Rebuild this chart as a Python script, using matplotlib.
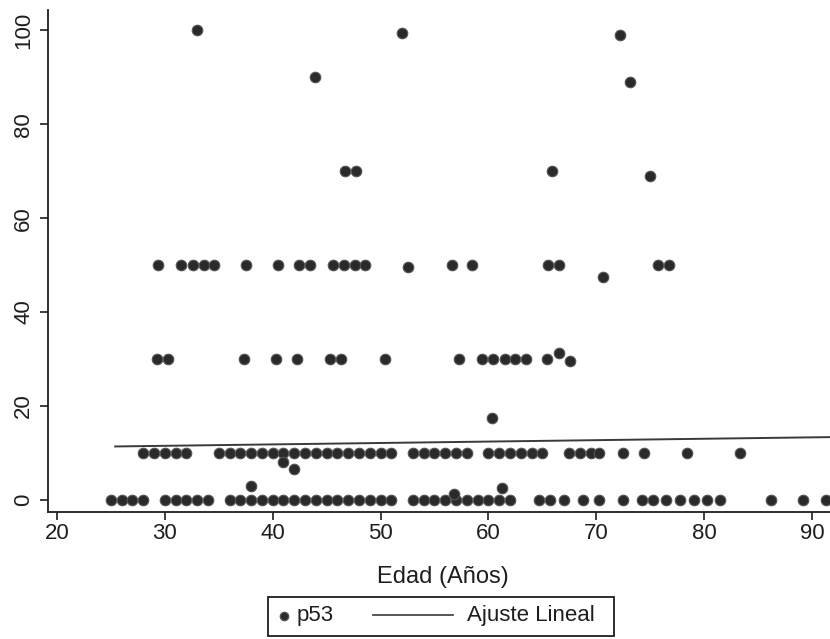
import matplotlib
matplotlib.use("Agg")
import matplotlib.pyplot as plt
import numpy as np
from matplotlib.lines import Line2D
from matplotlib.patches import Rectangle

plt.rcParams['font.family'] = ['Liberation Sans', 'DejaVu Sans']

# --- data ---
edad_0 = [25, 26, 27, 28, 30, 31, 32, 33, 34,
          36, 37, 38, 39, 40, 41, 42, 43, 44, 45, 46, 47, 48, 49, 50, 51,
          53, 54, 55, 56, 57, 58, 59, 60, 61, 62,
          64.7, 65.7, 67, 68.8, 70.3, 72.5, 74.2, 75.3, 76.5, 77.8,
          79.1, 80.3, 81.5, 86.2, 89.2, 91.3]
edad_10 = [28, 29, 30, 31, 32,
           35, 36, 37, 38, 39, 40, 41, 42, 43, 44, 45, 46, 47, 48, 49, 50, 51,
           53, 54, 55, 56, 57, 58,
           60, 61, 62, 63, 64, 65,
           67.5, 68.5, 69.5, 70.3, 72.5, 74.4, 78.4, 83.3]
edad_30 = [29.3, 30.3, 37.3, 40.3, 42.3, 45.3, 46.3, 50.4, 57.3,
           59.4, 60.4, 61.5, 62.5, 63.5, 65.4, 66.5, 67.6]
p53_30 = [30, 30, 30, 30, 30, 30, 30, 30, 30,
          30, 30, 30, 30, 30, 30, 31.2, 29.5]
edad_50 = [29.4, 31.5, 32.6, 33.6, 34.6, 37.5, 40.5, 42.4, 43.5, 45.6,
           46.6, 47.6, 48.6, 52.5, 56.6, 58.5, 65.5, 66.5, 70.6, 75.7, 76.7]
p53_50 = [50, 50, 50, 50, 50, 50, 50, 50, 50, 50,
          50, 50, 50, 49.5, 50, 50, 50, 50, 47.5, 50, 50]
edad_otros = [41, 42, 38, 61.3, 56.8, 60.3, 46.7, 47.7, 65.9, 75.0,
              33.0, 52.0, 72.2, 43.9, 73.1]
p53_otros = [8, 6.5, 3, 2.5, 1.2, 17.5, 70, 70, 70, 69,
             100, 99.5, 99, 90, 89]

edad = np.array(edad_0 + edad_10 + edad_30 + edad_50 + edad_otros, dtype=float)
p53 = np.array([0] * len(edad_0) + [10] * len(edad_10) + p53_30 + p53_50 + p53_otros,
               dtype=float)

ajuste_x = [25.4, 92.0]
ajuste_y = [11.4, 13.4]

x_ticks = [20, 30, 40, 50, 60, 70, 80, 90]
y_ticks = [0, 20, 40, 60, 80, 100]
leyenda = ['p53', 'Ajuste Lineal']

# --- figure ---
W, H = 830, 639
fig = plt.figure(figsize=(W / 100, H / 100), dpi=100)
ax = fig.add_axes([48 / W, 1 - 512 / H, 1 - 48 / W + 0.01, 502 / H])

ink = '#1e1e1e'
mface, medge = '#2a2a2a', '#555555'
ax.plot(edad, p53, linestyle='none', marker='o', markersize=7.6,
        markerfacecolor=mface, markeredgecolor=medge,
        markeredgewidth=0.8, zorder=3)
ax.plot(ajuste_x, ajuste_y, color='#3a3a3a', linewidth=1.4, zorder=2)

ax.set_xlim(19.17, 91.67 + 0.01 * W / 10.786)
ax.set_ylim(-2.55, 104.3)

ax.set_xticks(x_ticks)
ax.set_yticks(y_ticks)
ax.tick_params(axis='both', direction='out', length=6, width=1.2,
               colors=ink, labelsize=16)
ax.tick_params(axis='x', pad=2)
ax.tick_params(axis='y', pad=4)
for lab in ax.get_yticklabels():
    lab.set_rotation(90)
    lab.set_va('center')

for s in ['top', 'right']:
    ax.spines[s].set_visible(False)
for s in ['left', 'bottom']:
    ax.spines[s].set_linewidth(1.3)
    ax.spines[s].set_color(ink)

ax.set_xlabel('Edad (Años)', fontsize=17, color=ink, labelpad=16)

# --- legend box (drawn in figure pixel coordinates) ---
def fx(px):
    return px / W

def fy(py):
    return 1 - py / H

fig.add_artist(Rectangle((fx(268), fy(636)), fx(614) - fx(268), fy(597) - fy(636),
                         transform=fig.transFigure, fill=False,
                         edgecolor=ink, linewidth=1.3))
fig.add_artist(Line2D([fx(284)], [fy(616)], transform=fig.transFigure,
                      linestyle='none', marker='o', markersize=6,
                      markerfacecolor=mface, markeredgecolor=medge))
fig.text(fx(297), fy(616), leyenda[0], fontsize=16, color=ink,
         ha='left', va='center')
fig.add_artist(Line2D([fx(373), fx(453)], [fy(615), fy(615)],
                      transform=fig.transFigure, color='#3a3a3a', linewidth=1.2))
fig.text(fx(467), fy(616), leyenda[1], fontsize=16, color=ink,
         ha='left', va='center')

fig.savefig('out.png', dpi=100, facecolor='white')
